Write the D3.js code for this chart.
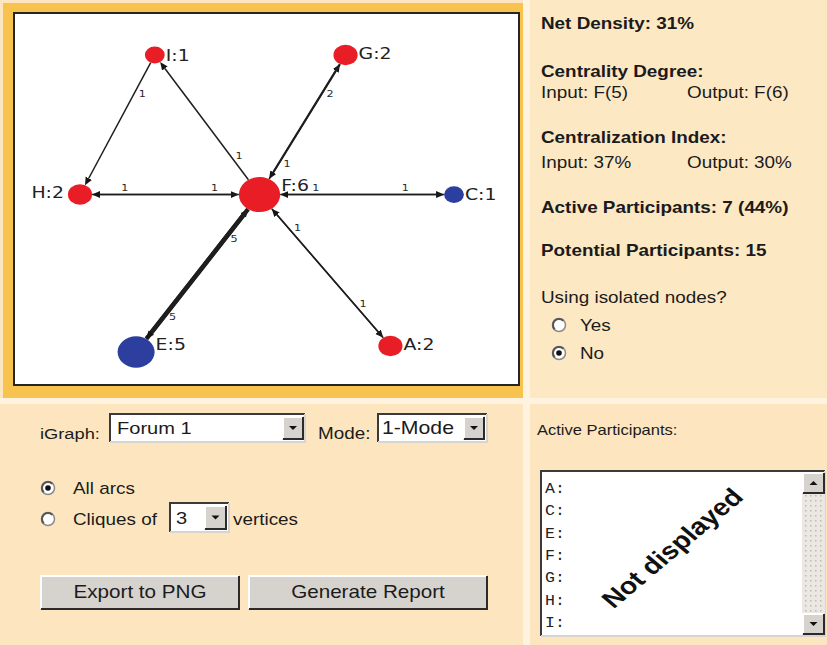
<!DOCTYPE html>
<html>
<head>
<meta charset="utf-8">
<script src="https://cdn.jsdelivr.net/npm/d3@7"></script>
<style>
  body { margin: 0; background: #fde6bf; }
  svg { display: block; }
</style>
</head>
<body>
<svg id="chart" width="827" height="645"></svg>
<script>
// nodes of the interaction graph (layout units 0..100 as exported by the tool)
const nodeNames = ['A', 'C', 'E', 'F', 'G', 'H', 'I']
const nodeDegree = [2, 1, 5, 6, 2, 2, 1]
const nodeGroup = ['red', 'blue', 'blue', 'red', 'red', 'red', 'red']
const layoutX = [83, 100, 15, 48, 71, 0, 20]
const layoutY = [98, 47, 100, 47, 0, 47, 0]

// directed arcs with message counts
const arcSource = ['I', 'F', 'F', 'G', 'H', 'F', 'F', 'C', 'E', 'F', 'F', 'A']
const arcTarget = ['H', 'I', 'G', 'F', 'F', 'H', 'C', 'F', 'F', 'E', 'A', 'F']
const arcWeight = [1, 1, 1, 2, 1, 1, 1, 1, 5, 5, 1, 1]

// statistics panel
const netDensity = 31
const centralityInput = 'F(5)'
const centralityOutput = 'F(6)'
const centralizationInput = 37
const centralizationOutput = 30
const activeParticipants = 7
const activeShare = 44
const potentialParticipants = 15

// form values
const graphOptions = ['Forum 1']
const modeOptions = ['1-Mode']
const cliqueSizes = [3]

// the screenshot is stretched horizontally, text and nodes follow that
const SX = 1.18
const svg = d3.select('#chart')
const defs = svg.append('defs')

const colors = { red: '#e91d25', blue: '#2c3f9f' }

// helpers
function addText (parent, x, y, str, opts = {}) {
  return parent.append('text')
    .attr('transform', 'translate(' + x + ',' + y + ') scale(' + SX + ',1)')
    .attr('font-family', opts.family || '"Liberation Sans", Arial, sans-serif')
    .attr('font-size', opts.size || 16)
    .attr('font-weight', opts.bold ? 'bold' : 'normal')
    .attr('text-anchor', opts.anchor || 'start')
    .attr('fill', opts.fill || '#1b1b1b')
    .text(str)
}

function bevel (parent, x, y, w, h, light, dark, fill) {
  const g = parent.append('g')
  g.append('rect').attr('x', x).attr('y', y).attr('width', w).attr('height', h).attr('fill', fill)
  g.append('path').attr('d', `M${x + 1},${y + h - 1}V${y + 1}H${x + w - 1}`)
    .attr('fill', 'none').attr('stroke', light).attr('stroke-width', 2)
  g.append('path').attr('d', `M${x + 1},${y + h - 1}H${x + w - 1}V${y + 1}`)
    .attr('fill', 'none').attr('stroke', dark).attr('stroke-width', 2)
  return g
}

const sunken = (parent, x, y, w, h) => bevel(parent, x, y, w, h, '#3a3a3a', '#d8d5d0', '#fff')
const raised = (parent, x, y, w, h) => bevel(parent, x, y, w, h, '#ffffff', '#2b2b2b', '#d6d3ce')

function dropButton (parent, x, y, w, h, up) {
  const g = raised(parent, x, y, w, h)
  const cx = x + w / 2
  const cy = y + h / 2
  const tri = up
    ? `M${cx - 4},${cy + 2}L${cx + 4},${cy + 2}L${cx},${cy - 2}Z`
    : `M${cx - 4},${cy - 2}L${cx + 4},${cy - 2}L${cx},${cy + 2}Z`
  g.append('path').attr('d', tri).attr('fill', '#111')
}

function radio (parent, cx, cy, checked) {
  parent.append('circle').attr('cx', cx).attr('cy', cy).attr('r', 6.5)
    .attr('fill', '#fff').attr('stroke', '#8a8a8a').attr('stroke-width', 1.5)
  parent.append('path')
    .attr('d', d3.arc()({ innerRadius: 5, outerRadius: 7, startAngle: -Math.PI * 0.75, endAngle: Math.PI * 0.25 }))
    .attr('transform', `translate(${cx},${cy})`).attr('fill', '#555')
  if (checked) {
    parent.append('circle').attr('cx', cx).attr('cy', cy).attr('r', 2.8).attr('fill', '#111')
  }
}

// page background, separators and graph frame
svg.append('rect').attr('width', 827).attr('height', 645).attr('fill', '#fde6bf')
svg.append('rect').attr('x', 530).attr('y', 0).attr('width', 297).attr('height', 398).attr('fill', '#fde8c4')
svg.append('rect').attr('x', 523).attr('y', 0).attr('width', 7).attr('height', 645).attr('fill', '#fff3df')
svg.append('rect').attr('x', 0).attr('y', 398).attr('width', 827).attr('height', 6).attr('fill', '#fff3df')
svg.append('rect').attr('x', 3).attr('y', 3).attr('width', 520).attr('height', 395).attr('fill', '#f7c24d')
svg.append('rect').attr('x', 14).attr('y', 13).attr('width', 505).attr('height', 372)
  .attr('fill', '#fff').attr('stroke', '#262626').attr('stroke-width', 2)

// graph
const xScale = d3.scaleLinear().domain([0, 100]).range([80, 454])
const yScale = d3.scaleLinear().domain([0, 100]).range([55, 352])
const rScale = d3.scaleLinear().domain([1, 6]).range([8.4, 17.5])
const wScale = d3.scaleLinear().domain([1, 5]).range([1.5, 4.4])

const nodes = nodeNames.map((name, i) => ({
  name,
  degree: nodeDegree[i],
  group: nodeGroup[i],
  x: xScale(layoutX[i]),
  y: yScale(layoutY[i]),
  ry: rScale(nodeDegree[i]),
  rx: rScale(nodeDegree[i]) * SX
}))
const byName = new Map(nodes.map(d => [d.name, d]))

const arcs = arcSource.map((s, i) => ({
  source: byName.get(s),
  target: byName.get(arcTarget[i]),
  weight: arcWeight[i]
}))

defs.append('marker')
  .attr('id', 'arrow')
  .attr('viewBox', '0 -4 8 8')
  .attr('refX', 0)
  .attr('refY', 0)
  .attr('markerWidth', 8)
  .attr('markerHeight', 8)
  .attr('markerUnits', 'userSpaceOnUse')
  .attr('orient', 'auto')
  .append('path')
  .attr('d', 'M0,-3.5L8,0L0,3.5Z')
  .attr('fill', '#151515')

// distance from ellipse centre to its edge along a unit vector
const edge = (n, ux, uy) => 1 / Math.sqrt((ux / n.rx) ** 2 + (uy / n.ry) ** 2)

const graph = svg.append('g')
const arcLayer = graph.append('g')
const nodeLayer = graph.append('g')
const labelLayer = graph.append('g')

arcs.forEach(a => {
  const dx = a.target.x - a.source.x
  const dy = a.target.y - a.source.y
  const len = Math.sqrt(dx * dx + dy * dy)
  a.dx = dx
  a.dy = dy
  a.ux = dx / len
  a.uy = dy / len
  const s = edge(a.source, a.ux, a.uy)
  const t = edge(a.target, a.ux, a.uy) + 8
  a.x1 = a.source.x + a.ux * s
  a.y1 = a.source.y + a.uy * s
  a.x2 = a.target.x - a.ux * t
  a.y2 = a.target.y - a.uy * t
  // weight sits near the sending end, on the right (or upper) side of the arc
  a.nx = -a.uy
  a.ny = a.ux
  if (a.nx < -0.01 || (Math.abs(a.nx) <= 0.01 && a.ny > 0)) { a.nx = -a.nx; a.ny = -a.ny }
})

arcLayer.selectAll('line.arc')
  .data(arcs)
  .join('line')
  .attr('class', 'arc')
  .attr('x1', d => d.x1)
  .attr('y1', d => d.y1)
  .attr('x2', d => d.x2)
  .attr('y2', d => d.y2)
  .attr('stroke', '#1e1e1e')
  .attr('stroke-width', d => wScale(d.weight))
  .attr('marker-end', 'url(#arrow)')

nodeLayer.selectAll('ellipse.node')
  .data(nodes)
  .join('ellipse')
  .attr('class', 'node')
  .attr('cx', d => d.x)
  .attr('cy', d => d.y)
  .attr('rx', d => d.rx)
  .attr('ry', d => d.ry)
  .attr('fill', d => colors[d.group])

// labels: leftmost node gets its label on the left
const minX = d3.min(nodes, d => d.x)
const nodeBoxes = []
nodes.forEach(d => {
  const left = d.x === minX
  const lx = left ? d.x - d.rx - 4 : d.x + d.rx + 1
  const ly = d.y + Math.min(0, 8 - d.ry) + 6
  const t = addText(labelLayer, lx, ly, d.name + ':' + d.degree, {
    size: 16,
    anchor: left ? 'end' : 'start',
    family: '"DejaVu Sans", Verdana, sans-serif',
    fill: '#222'
  })
  nodeBoxes.push(t.node().getBoundingClientRect())
})

// weight labels, slid along the arc until they clear the node labels
const hits = (x, y) => nodeBoxes.some(b => x + 4 > b.left && x - 4 < b.right && y + 5 > b.top && y - 5 < b.bottom)
arcs.forEach(a => {
  let t = 0.25
  let cx = a.source.x + a.dx * t + a.nx * 7
  let cy = a.source.y + a.dy * t + a.ny * 7
  while (hits(cx, cy) && t < 0.5) {
    t += 0.02
    cx = a.source.x + a.dx * t + a.nx * 7
    cy = a.source.y + a.dy * t + a.ny * 7
  }
  addText(labelLayer, cx, cy + 3.5, a.weight, { size: 9.5, anchor: 'middle', fill: '#2a2a2a', family: '"DejaVu Sans", Verdana, sans-serif' })
})

// statistics panel
const stats = svg.append('g')
addText(stats, 541, 29, 'Net Density: ' + netDensity + '%', { bold: true })
addText(stats, 541, 77, 'Centrality Degree:', { bold: true })
addText(stats, 541, 98, 'Input: ' + centralityInput)
addText(stats, 687, 98, 'Output: ' + centralityOutput)
addText(stats, 541, 143, 'Centralization Index:', { bold: true })
addText(stats, 541, 168, 'Input: ' + centralizationInput + '%')
addText(stats, 687, 168, 'Output: ' + centralizationOutput + '%')
addText(stats, 541, 213, 'Active Participants: ' + activeParticipants + ' (' + activeShare + '%)', { bold: true })
addText(stats, 541, 256, 'Potential Participants: ' + potentialParticipants, { bold: true })
addText(stats, 541, 303, 'Using isolated nodes?')
radio(stats, 559, 325, false)
addText(stats, 580, 331, 'Yes')
radio(stats, 559, 353, true)
addText(stats, 580, 359, 'No')

// graph selection controls
const form = svg.append('g')
addText(form, 40, 439, 'iGraph:', { size: 15.5 })
sunken(form, 109, 413, 197, 30)
addText(form, 117, 434, graphOptions[0], { size: 17 })
dropButton(form, 282, 416, 22, 24)
addText(form, 318, 439, 'Mode:', { size: 16 })
sunken(form, 377, 413, 111, 30)
addText(form, 382, 434, modeOptions[0], { size: 18 })
dropButton(form, 463, 416, 22, 24)

radio(form, 48, 488, true)
addText(form, 73, 494, 'All arcs')
radio(form, 48, 519, false)
addText(form, 73, 525, 'Cliques of')
sunken(form, 169, 502, 61, 31)
addText(form, 176, 524, cliqueSizes[0], { size: 17 })
dropButton(form, 204, 505, 23, 25)
addText(form, 233, 525, 'vertices')

raised(form, 40, 575, 200, 35)
addText(form, 140, 598, 'Export to PNG', { size: 17.5, anchor: 'middle' })
raised(form, 248, 575, 240, 35)
addText(form, 368, 598, 'Generate Report', { size: 17.5, anchor: 'middle' })

// participants list
const list = svg.append('g')
addText(list, 537, 435, 'Active Participants:', { size: 14 })
sunken(list, 540, 470, 286, 167)

const pattern = defs.append('pattern')
  .attr('id', 'track')
  .attr('width', 5)
  .attr('height', 5)
  .attr('patternUnits', 'userSpaceOnUse')
pattern.append('rect').attr('width', 5).attr('height', 5).attr('fill', '#ebe8e3')
pattern.append('rect').attr('width', 1.5).attr('height', 1.5).attr('fill', '#bdbab5')
list.append('rect').attr('x', 802).attr('y', 494).attr('width', 23).attr('height', 119).attr('fill', 'url(#track)')
dropButton(list, 802, 472, 23, 22, true)
dropButton(list, 802, 613, 23, 22, false)

const rowY = d3.scalePoint().domain(nodeNames).range([493, 627])
nodeNames.forEach(n => {
  addText(list, 545, rowY(n), n + ':', { size: 14, family: '"Liberation Mono", "Courier New", monospace', fill: '#222' })
})

list.append('text')
  .attr('transform', 'translate(672,548) scale(' + SX + ',1) rotate(-45)')
  .attr('font-family', '"Liberation Sans", Arial, sans-serif')
  .attr('font-size', 24)
  .attr('font-weight', 'bold')
  .attr('text-anchor', 'middle')
  .attr('dy', '0.35em')
  .attr('fill', '#111')
  .text('Not displayed')
</script>
</body>
</html>
